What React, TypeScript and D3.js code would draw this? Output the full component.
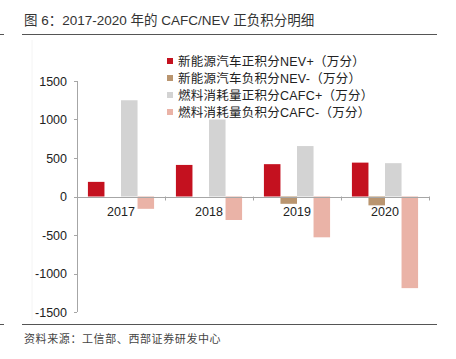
import React from "react";
import * as d3 from "d3";

const categories = ["2017", "2018", "2019", "2020"];
const seriesNames = [
  "新能源汽车正积分NEV+（万分）",
  "新能源汽车负积分NEV-（万分）",
  "燃料消耗量正积分CAFC+（万分）",
  "燃料消耗量负积分CAFC-（万分）",
];
const nevPlus = [190, 410, 420, 440];
const nevMinus = [0, 0, -95, -115];
const cafcPlus = [1250, 1000, 655, 433];
const cafcMinus = [-160, -305, -530, -1190];
const colors = ["#C4111F", "#B9956F", "#D3D3D3", "#EAB3A7"];
const yTicks = [1500, 1000, 500, 0, -500, -1000, -1500];

export default function App() {
  const W = 456, H = 359;
  const plotL = 77, plotR = 429;
  const y = d3.scaleLinear().domain([-1500, 1500]).range([312, 81]);
  const x = d3.scaleBand<string>().domain(categories).range([plotL, plotR]).paddingInner(0).paddingOuter(0);
  const inner = d3.scaleBand<number>().domain([0, 1, 2, 3]).range([0, x.bandwidth()]).paddingInner(0).paddingOuter(0.66);
  const series = [nevPlus, nevMinus, cafcPlus, cafcMinus];
  const font = "'Liberation Sans', Arial, sans-serif";
  const cjk = "'Noto Sans CJK SC', sans-serif";
  return (
    <svg width={W} height={H} style={{ position: "absolute", left: 0, top: 0, background: "#fff" }}>
      <text x={24} y={25} fontSize={13.5} fill="#333" fontFamily={`${font}, ${cjk}`}>
        图 6：2017-2020 年的 CAFC/NEV 正负积分明细
      </text>
      <line x1={22} x2={437} y1={34.5} y2={34.5} stroke="#555" strokeWidth={1} />
      <line x1={0} x2={4} y1={34.5} y2={34.5} stroke="#555" strokeWidth={1} />
      <line x1={32} x2={32} y1={40} y2={320} stroke="#f4f4f4" strokeWidth={1} />
      {/* bars */}
      {series.map((vals, si) =>
        vals.map((v, ci) => {
          if (v === 0) return null;
          const bx = (x(categories[ci]) ?? 0) + (inner(si) ?? 0);
          const y0 = y(0), y1 = y(v);
          return (
            <rect key={`${si}-${ci}`} x={bx} y={Math.min(y0, y1)} width={inner.bandwidth()} height={Math.abs(y1 - y0)} fill={colors[si]} />
          );
        })
      )}
      {/* y axis */}
      <line x1={plotL + 0.5} x2={plotL + 0.5} y1={y(1500)} y2={y(-1500)} stroke="#A6A6A6" />
      {yTicks.map((t) => (
        <g key={t}>
          <line x1={plotL - 3} x2={plotL} y1={Math.round(y(t)) + 0.5} y2={Math.round(y(t)) + 0.5} stroke="#A6A6A6" />
          <text x={67} y={y(t) + 4.5} textAnchor="end" fontSize={12.5} fill="#222" fontFamily={font}>
            {t}
          </text>
        </g>
      ))}
      {/* x axis */}
      <line x1={plotL} x2={plotR} y1={Math.round(y(0)) + 0.5} y2={Math.round(y(0)) + 0.5} stroke="#A6A6A6" />
      {[...categories.map((c) => x(c) ?? 0), plotR].map((px, i) => (
        <line key={i} x1={px + 0.5} x2={px + 0.5} y1={y(0)} y2={y(0) + 4} stroke="#A6A6A6" />
      ))}
      {categories.map((c) => (
        <text key={c} x={(x(c) ?? 0) + x.bandwidth() / 2} y={216} textAnchor="middle" fontSize={12.5} fill="#222" fontFamily={font}>
          {c}
        </text>
      ))}
      {/* legend */}
      {seriesNames.map((n, i) => (
        <g key={n}>
          <rect x={167} y={58 + i * 17} width={6} height={6} fill={colors[i]} />
          <text x={178} y={65.5 + i * 17} fontSize={12.5} letterSpacing={0.25} fill="#222" fontFamily={`${font}, ${cjk}`}>
            {n}
          </text>
        </g>
      ))}
      <line x1={22} x2={437} y1={324.5} y2={324.5} stroke="#555" strokeWidth={1} />
      <line x1={0} x2={4} y1={324.5} y2={324.5} stroke="#555" strokeWidth={1} />
      <text x={24} y={343} fontSize={11} letterSpacing={0.6} fill="#444" fontFamily={cjk}>
        资料来源：工信部、西部证券研发中心
      </text>
    </svg>
  );
}
